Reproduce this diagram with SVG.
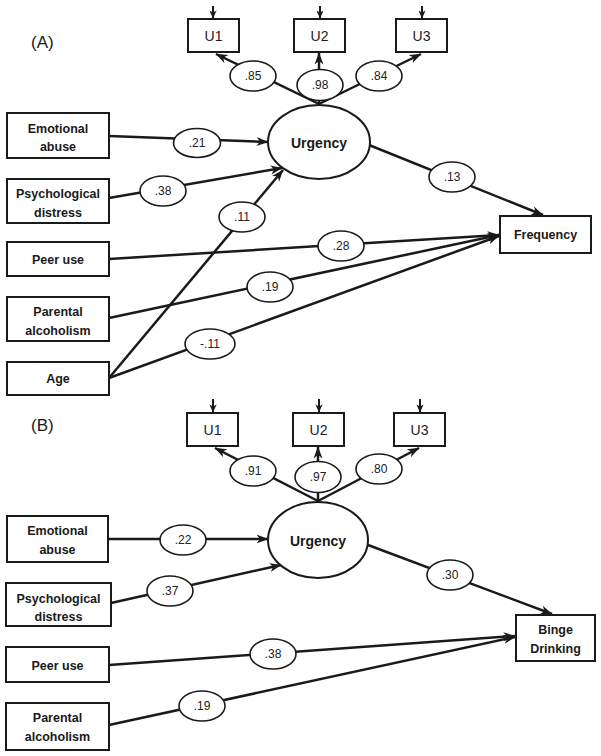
<svg xmlns="http://www.w3.org/2000/svg" width="601" height="756" viewBox="0 0 601 756">
<defs>
<marker id="ah" markerUnits="userSpaceOnUse" viewBox="0 0 12 10" markerWidth="12" markerHeight="10" refX="11.5" refY="5" orient="auto">
<path d="M0,0.5 L12,5 L0,9.5 L3.5,5 z" fill="#1a1a1a"/>
</marker>
<marker id="ahs" markerUnits="userSpaceOnUse" viewBox="0 0 10 10" markerWidth="8" markerHeight="8" refX="9.5" refY="5" orient="auto">
<path d="M0,0.5 L10,5 L0,9.5 L2.5,5 z" fill="#1a1a1a"/>
</marker>
</defs>
<style>
.box{fill:#fff;stroke:#1a1a1a;stroke-width:2}
.lat{fill:#fff;stroke:#1a1a1a;stroke-width:2}
.lab{fill:#fff;stroke:#1a1a1a;stroke-width:1.6}
.c{fill:none;stroke:#1a1a1a;stroke-width:2.5}
.ca{fill:none;stroke:#1a1a1a;stroke-width:2.5;marker-end:url(#ah)}
.cs{fill:none;stroke:#1a1a1a;stroke-width:2;marker-end:url(#ahs)}
.bt{font-family:"Liberation Sans",Arial,sans-serif;font-weight:bold;font-size:12.5px;fill:#1a1a1a;text-anchor:middle}
.ut{font-family:"Liberation Sans",Arial,sans-serif;font-size:14px;fill:#1a1a1a;text-anchor:middle}
.lt{font-family:"Liberation Sans",Arial,sans-serif;font-size:12px;fill:#222;text-anchor:middle}
.pt{font-family:"Liberation Sans",Arial,sans-serif;font-size:17px;fill:#1a1a1a}
</style>
<rect width="601" height="756" fill="#fff"/>

<text class="pt" x="31" y="48">(A)</text>
<text class="pt" x="31" y="431">(B)</text>

<g id="connectors">
<!-- Panel A -->
<line class="cs" x1="213" y1="6" x2="213" y2="18"/>
<line class="cs" x1="320" y1="6" x2="320" y2="18"/>
<line class="cs" x1="422" y1="6" x2="422" y2="18"/>
<line class="ca" x1="319" y1="104" x2="216" y2="54"/>
<line class="ca" x1="319" y1="106" x2="319" y2="53"/>
<line class="ca" x1="319" y1="104" x2="421" y2="54"/>
<line class="ca" x1="109" y1="136" x2="268" y2="142"/>
<line class="ca" x1="109" y1="198" x2="282" y2="168"/>
<line class="ca" x1="109" y1="378" x2="283" y2="170"/>
<line class="ca" x1="369" y1="145" x2="543" y2="215"/>
<line class="ca" x1="109" y1="259" x2="499" y2="235"/>
<line class="ca" x1="109" y1="318" x2="499" y2="235"/>
<line class="ca" x1="109" y1="378" x2="499" y2="236"/>
<!-- Panel B -->
<line class="cs" x1="213" y1="399" x2="213" y2="412"/>
<line class="cs" x1="319" y1="399" x2="319" y2="412"/>
<line class="cs" x1="420" y1="399" x2="420" y2="412"/>
<line class="ca" x1="318" y1="501" x2="215" y2="448"/>
<line class="ca" x1="318" y1="503" x2="318" y2="447"/>
<line class="ca" x1="318" y1="501" x2="419" y2="448"/>
<line class="ca" x1="108" y1="539" x2="268" y2="539"/>
<line class="ca" x1="111" y1="603" x2="281" y2="565"/>
<line class="ca" x1="368" y1="545" x2="552" y2="614"/>
<line class="ca" x1="109" y1="665" x2="515" y2="636"/>
<line class="ca" x1="109" y1="725" x2="515" y2="637"/>
</g>

<!-- Panel A nodes -->
<g id="a-u1"><rect class="box" x="188" y="19" width="51" height="33"/><text class="ut" x="213.5" y="41">U1</text></g>
<g id="a-u2"><rect class="box" x="294" y="19" width="51" height="33"/><text class="ut" x="319.5" y="41">U2</text></g>
<g id="a-u3"><rect class="box" x="396" y="19" width="51" height="33"/><text class="ut" x="421.5" y="41">U3</text></g>
<g id="a-urgency"><ellipse class="lat" cx="319" cy="142" rx="51" ry="37"/><text class="bt" x="319" y="148" style="font-size:14px">Urgency</text></g>
<g id="a-emotional"><rect class="box" x="7" y="113" width="102" height="45"/><text class="bt" x="58" y="133">Emotional</text><text class="bt" x="58" y="151">abuse</text></g>
<g id="a-psych"><rect class="box" x="7" y="179" width="102" height="44"/><text class="bt" x="58" y="198">Psychological</text><text class="bt" x="58" y="217">distress</text></g>
<g id="a-peer"><rect class="box" x="7" y="242" width="102" height="34"/><text class="bt" x="58" y="264">Peer use</text></g>
<g id="a-parental"><rect class="box" x="7" y="297" width="102" height="44"/><text class="bt" x="58" y="316">Parental</text><text class="bt" x="58" y="335">alcoholism</text></g>
<g id="a-age"><rect class="box" x="7" y="362" width="102" height="33"/><text class="bt" x="58" y="383">Age</text></g>
<g id="a-frequency"><rect class="box" x="500" y="216" width="91" height="37"/><text class="bt" x="545.5" y="239">Frequency</text></g>

<g id="a-l85"><ellipse class="lab" cx="253" cy="76" rx="23" ry="15"/><text class="lt" x="253" y="80">.85</text></g>
<g id="a-l98"><ellipse class="lab" cx="320" cy="85" rx="23" ry="15.5"/><text class="lt" x="320" y="89">.98</text></g>
<g id="a-l84"><ellipse class="lab" cx="379" cy="76" rx="23" ry="15"/><text class="lt" x="379" y="80">.84</text></g>
<g id="a-l21"><ellipse class="lab" cx="197" cy="143" rx="23.5" ry="14.5"/><text class="lt" x="197" y="147">.21</text></g>
<g id="a-l38"><ellipse class="lab" cx="163" cy="191" rx="23" ry="15"/><text class="lt" x="163" y="195">.38</text></g>
<g id="a-l11"><ellipse class="lab" cx="242" cy="217" rx="23" ry="15"/><text class="lt" x="242" y="221">.11</text></g>
<g id="a-l13"><ellipse class="lab" cx="452" cy="177" rx="23" ry="15"/><text class="lt" x="452" y="181">.13</text></g>
<g id="a-l28"><ellipse class="lab" cx="341" cy="246" rx="23" ry="15"/><text class="lt" x="341" y="250">.28</text></g>
<g id="a-l19"><ellipse class="lab" cx="270" cy="287" rx="23" ry="15"/><text class="lt" x="270" y="291">.19</text></g>
<g id="a-lm11"><ellipse class="lab" cx="210" cy="344" rx="25" ry="15"/><text class="lt" x="210" y="348">-.11</text></g>

<!-- Panel B nodes -->
<g id="b-u1"><rect class="box" x="187" y="413" width="51" height="33"/><text class="ut" x="212.5" y="435">U1</text></g>
<g id="b-u2"><rect class="box" x="293" y="413" width="51" height="33"/><text class="ut" x="318.5" y="435">U2</text></g>
<g id="b-u3"><rect class="box" x="394" y="413" width="51" height="33"/><text class="ut" x="419.5" y="435">U3</text></g>
<g id="b-urgency"><ellipse class="lat" cx="318" cy="540" rx="50" ry="38"/><text class="bt" x="318" y="546" style="font-size:14px">Urgency</text></g>
<g id="b-emotional"><rect class="box" x="7" y="516" width="101" height="46"/><text class="bt" x="57.5" y="535">Emotional</text><text class="bt" x="57.5" y="554">abuse</text></g>
<g id="b-psych"><rect class="box" x="6" y="583" width="105" height="43"/><text class="bt" x="58.5" y="603">Psychological</text><text class="bt" x="58.5" y="621">distress</text></g>
<g id="b-peer"><rect class="box" x="6" y="647" width="103" height="35"/><text class="bt" x="57.5" y="670">Peer use</text></g>
<g id="b-parental"><rect class="box" x="6" y="703" width="103" height="47"/><text class="bt" x="57.5" y="722">Parental</text><text class="bt" x="57.5" y="741">alcoholism</text></g>
<g id="b-binge"><rect class="box" x="516" y="615" width="79" height="46"/><text class="bt" x="555.5" y="634">Binge</text><text class="bt" x="555.5" y="653">Drinking</text></g>

<g id="b-l91"><ellipse class="lab" cx="253" cy="471" rx="23" ry="15"/><text class="lt" x="253" y="475">.91</text></g>
<g id="b-l97"><ellipse class="lab" cx="318" cy="477" rx="23" ry="15.5"/><text class="lt" x="318" y="481">.97</text></g>
<g id="b-l80"><ellipse class="lab" cx="379" cy="469" rx="23" ry="15"/><text class="lt" x="379" y="473">.80</text></g>
<g id="b-l22"><ellipse class="lab" cx="183" cy="540" rx="23" ry="15"/><text class="lt" x="183" y="544">.22</text></g>
<g id="b-l37"><ellipse class="lab" cx="170" cy="591" rx="23" ry="15"/><text class="lt" x="170" y="595">.37</text></g>
<g id="b-l30"><ellipse class="lab" cx="450" cy="575" rx="23" ry="15"/><text class="lt" x="450" y="579">.30</text></g>
<g id="b-l38"><ellipse class="lab" cx="273" cy="654" rx="23" ry="15"/><text class="lt" x="273" y="658">.38</text></g>
<g id="b-l19"><ellipse class="lab" cx="202" cy="706" rx="23" ry="15"/><text class="lt" x="202" y="710">.19</text></g>
</svg>
